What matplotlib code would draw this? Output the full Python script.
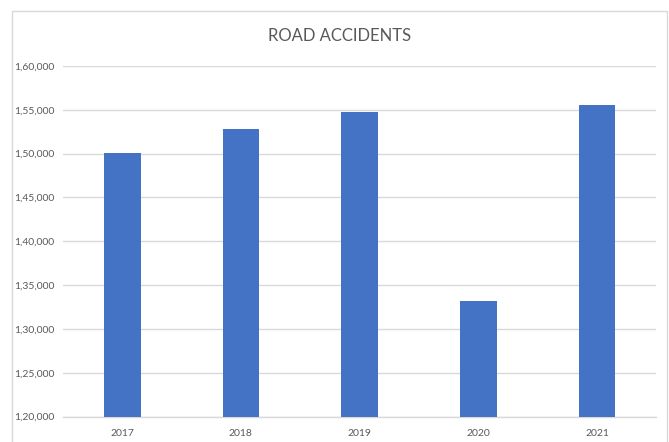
import matplotlib.pyplot as plt
from matplotlib.patches import Rectangle
from matplotlib.ticker import FuncFormatter, MultipleLocator

years = ["2017", "2018", "2019", "2020", "2021"]
accidents = [150100, 152800, 154700, 133200, 155600]

TEXT = "#595959"
GRID = "#d9d9d9"
BAR = "#4472c4"


def indian_format(v, pos=None):
    # lakh-style grouping: 1,60,000
    s = str(int(round(v)))
    if len(s) <= 3:
        return s
    head, tail = s[:-3], s[-3:]
    groups = []
    while len(head) > 2:
        groups.insert(0, head[-2:])
        head = head[:-2]
    if head:
        groups.insert(0, head)
    return ",".join(groups) + "," + tail


plt.rcParams['font.family'] = ['Lato', 'DejaVu Sans']

fig = plt.figure(figsize=(6.69, 4.42), dpi=100)
ax = fig.add_axes([0.094, 0.0573, 0.887, 0.7934])

# chart area outline
fig.patches.append(Rectangle((12 / 669, -0.01), 655 / 669, 1 - 11 / 442 + 0.01,
                             transform=fig.transFigure, fill=False,
                             edgecolor=GRID, linewidth=1))

x = range(len(years))
ax.bar(x, accidents, width=0.31, color=BAR, zorder=3)

ax.set_xlim(-0.5, len(years) - 0.5)
ax.set_ylim(120000, 160000)
ax.yaxis.set_major_locator(MultipleLocator(5000))
ax.yaxis.set_major_formatter(FuncFormatter(indian_format))
ax.set_xticks(list(x))
ax.set_xticklabels(years)

ax.grid(axis='y', color=GRID, linewidth=1, zorder=0)
for side in ['top', 'right', 'left']:
    ax.spines[side].set_visible(False)
ax.spines['bottom'].set_color(GRID)
ax.spines['bottom'].set_linewidth(1)
ax.tick_params(axis='both', length=0, colors=TEXT, labelsize=7.5)
ax.tick_params(axis='y', pad=6)
ax.tick_params(axis='x', pad=9)

fig.text(340 / 669, 1 - 36 / 442, "ROAD ACCIDENTS", ha='center', va='center',
         fontsize=12, color=TEXT)

fig.savefig("out.png", dpi=100)
